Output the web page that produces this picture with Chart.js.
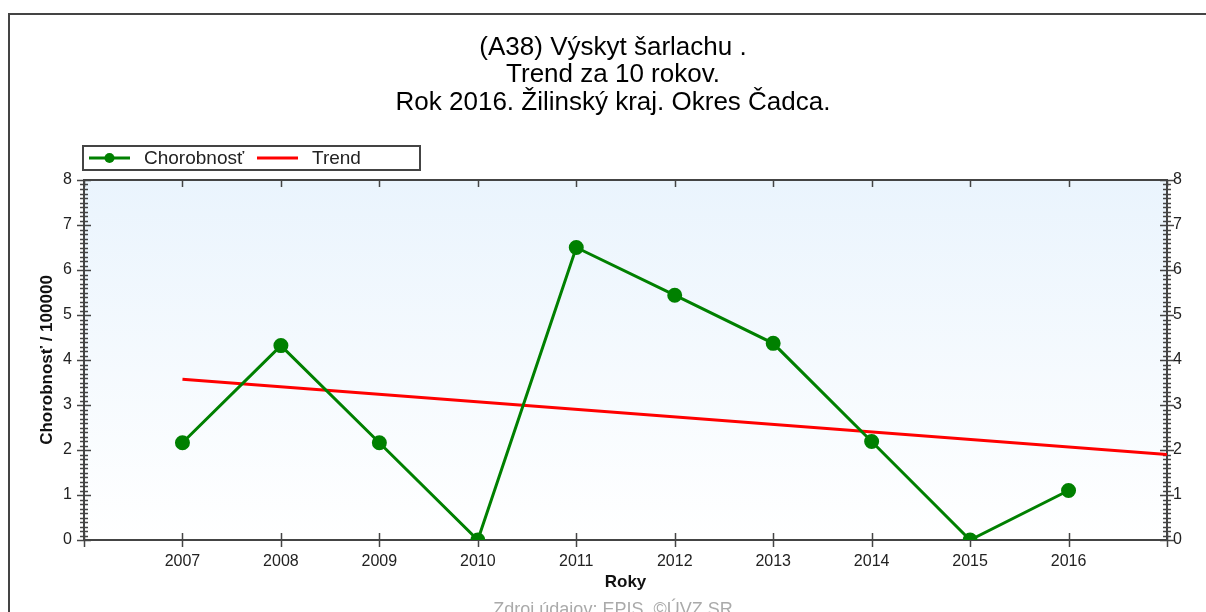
<!DOCTYPE html>
<html>
<head>
<meta charset="utf-8">
<script src="https://cdn.jsdelivr.net/npm/chart.js@4.4.1/dist/chart.umd.min.js"></script>
<style>
  html, body { margin: 0; padding: 0; background: #fff; }
  #wrap { width: 1206px; height: 612px; }
</style>
</head>
<body>
<div id="wrap"><canvas id="chart" width="1206" height="612"></canvas></div>
<script>
// chart data
const titleLines = ['(A38) Výskyt šarlachu .', 'Trend za 10 rokov.', 'Rok 2016. Žilinský kraj. Okres Čadca.'];
const years = [2007, 2008, 2009, 2010, 2011, 2012, 2013, 2014, 2015, 2016];
const morbidity = [2.16, 4.32, 2.16, 0, 6.5, 5.44, 4.37, 2.19, 0, 1.1];
const trendYears = [2007, 2017];
const trendValues = [3.57, 1.9];
const yTicks = [0, 1, 2, 3, 4, 5, 6, 7, 8];
const footerText = 'Zdroj údajov: EPIS, ©ÚVZ SR';

const FONT = 'Arial, "Liberation Sans", sans-serif';
const AXIS = '#444';

// background, frame, axis box with ticks, legend, title
const decor = {
    id: 'decor',
    beforeDraw(chart) {
        const ctx = chart.ctx;
        const a = chart.chartArea;
        ctx.save();
        ctx.fillStyle = '#fff';
        ctx.fillRect(0, 0, chart.width, chart.height);
        const g = ctx.createLinearGradient(0, a.top, 0, a.bottom);
        g.addColorStop(0, '#eaf4fd');
        g.addColorStop(1, '#ffffff');
        ctx.fillStyle = g;
        ctx.fillRect(a.left, a.top, a.right - a.left, a.bottom - a.top);
        // outer frame
        ctx.strokeStyle = '#444';
        ctx.lineWidth = 2;
        ctx.beginPath();
        ctx.moveTo(9, chart.height);
        ctx.lineTo(9, 14);
        ctx.lineTo(chart.width, 14);
        ctx.stroke();
        ctx.restore();
    },
    beforeDatasetsDraw(chart) {
        const ctx = chart.ctx;
        const a = chart.chartArea;
        const x = chart.scales.x;
        const y = chart.scales.y;
        ctx.save();
        ctx.strokeStyle = AXIS;
        ctx.lineWidth = 2;
        ctx.strokeRect(a.left, a.top, a.right - a.left, a.bottom - a.top);
        ctx.lineWidth = 1.5;
        ctx.beginPath();
        // y ticks, left and right
        for (let i = 0; i <= 80; i++) {
            const py = Math.round(y.getPixelForValue(i / 10)) + 0.5;
            const len = i % 10 === 0 ? 7 : 4;
            ctx.moveTo(a.left - len, py); ctx.lineTo(a.left + len, py);
            ctx.moveTo(a.right - len, py); ctx.lineTo(a.right + len, py);
        }
        // x ticks, bottom and top
        for (let v = x.min; v <= x.max; v++) {
            const px = Math.round(x.getPixelForValue(v)) + 0.5;
            ctx.moveTo(px, a.bottom - 7); ctx.lineTo(px, a.bottom + 7);
            ctx.moveTo(px, a.top); ctx.lineTo(px, a.top + 7);
        }
        ctx.stroke();
        ctx.restore();
    },
    afterDraw(chart) {
        const ctx = chart.ctx;
        ctx.save();
        // title
        ctx.fillStyle = '#000';
        ctx.font = '26px ' + FONT;
        ctx.textAlign = 'center';
        ctx.textBaseline = 'middle';
        titleLines.forEach((t, i) => ctx.fillText(t, 613, 47.5 + i * 27.5));
        // legend box
        ctx.strokeStyle = '#444';
        ctx.lineWidth = 2;
        ctx.strokeRect(83, 146, 337, 24);
        ctx.font = '19px ' + FONT;
        ctx.textAlign = 'left';
        let lx = 89;
        chart.data.datasets.forEach(ds => {
            ctx.strokeStyle = ds.borderColor;
            ctx.lineWidth = 3;
            ctx.beginPath();
            ctx.moveTo(lx, 158); ctx.lineTo(lx + 41, 158);
            ctx.stroke();
            if (ds.pointRadius > 0) {
                ctx.fillStyle = ds.borderColor;
                ctx.beginPath();
                ctx.arc(lx + 20.5, 158, 5, 0, Math.PI * 2);
                ctx.fill();
            }
            ctx.fillStyle = '#222';
            ctx.fillText(ds.label, lx + 55, 159);
            lx += 168;
        });
        // footer
        ctx.fillStyle = '#aaa';
        ctx.font = '18px ' + FONT;
        ctx.textAlign = 'center';
        ctx.textBaseline = 'alphabetic';
        ctx.fillText(footerText, 613, 615);
        ctx.restore();
    }
};

new Chart(document.getElementById('chart'), {
    type: 'line',
    data: {
        datasets: [{
            label: 'Chorobnosť',
            data: years.map((yr, i) => ({ x: yr, y: morbidity[i] })),
            borderColor: '#008000',
            backgroundColor: '#008000',
            borderWidth: 3,
            pointRadius: 6,
            pointHoverRadius: 6,
            tension: 0
        }, {
            label: 'Trend',
            data: trendYears.map((yr, i) => ({ x: yr, y: trendValues[i] })),
            borderColor: '#ff0000',
            backgroundColor: '#ff0000',
            borderWidth: 3,
            pointRadius: 0,
            tension: 0
        }]
    },
    options: {
        responsive: false,
        animation: false,
        layout: { padding: { left: 28, right: 0, top: 180, bottom: 0 } },
        plugins: {
            legend: { display: false },
            tooltip: { enabled: false }
        },
        scales: {
            x: {
                type: 'linear',
                min: 2006,
                max: 2017,
                afterFit: s => { s.height = 72; },
                grid: { display: false, drawTicks: false },
                border: { display: false },
                ticks: {
                    stepSize: 1,
                    padding: 12,
                    color: '#222',
                    font: { family: FONT, size: 16 },
                    callback: v => (v === 2006 || v === 2017 ? '' : String(v))
                },
                title: {
                    display: true,
                    text: 'Roky',
                    color: '#111',
                    font: { family: FONT, size: 17, weight: 'bold' },
                    padding: { top: 0, bottom: 19 }
                }
            },
            y: {
                position: 'left',
                min: 0,
                max: 8,
                afterFit: s => { s.width = 56; },
                afterBuildTicks: s => { s.ticks = yTicks.map(v => ({ value: v })); },
                grid: { display: false, drawTicks: false },
                border: { display: false },
                ticks: { padding: 12, color: '#222', font: { family: FONT, size: 16 } },
                title: {
                    display: true,
                    text: 'Chorobnosť / 100000',
                    color: '#111',
                    font: { family: FONT, size: 17, weight: 'bold' },
                    padding: { top: 9, bottom: 0 }
                }
            },
            y2: {
                position: 'right',
                min: 0,
                max: 8,
                afterFit: s => { s.width = 39; },
                afterBuildTicks: s => { s.ticks = yTicks.map(v => ({ value: v })); },
                grid: { display: false, drawTicks: false },
                border: { display: false },
                ticks: { padding: 6, color: '#222', font: { family: FONT, size: 16 } }
            }
        }
    },
    plugins: [decor]
});
</script>
</body>
</html>
